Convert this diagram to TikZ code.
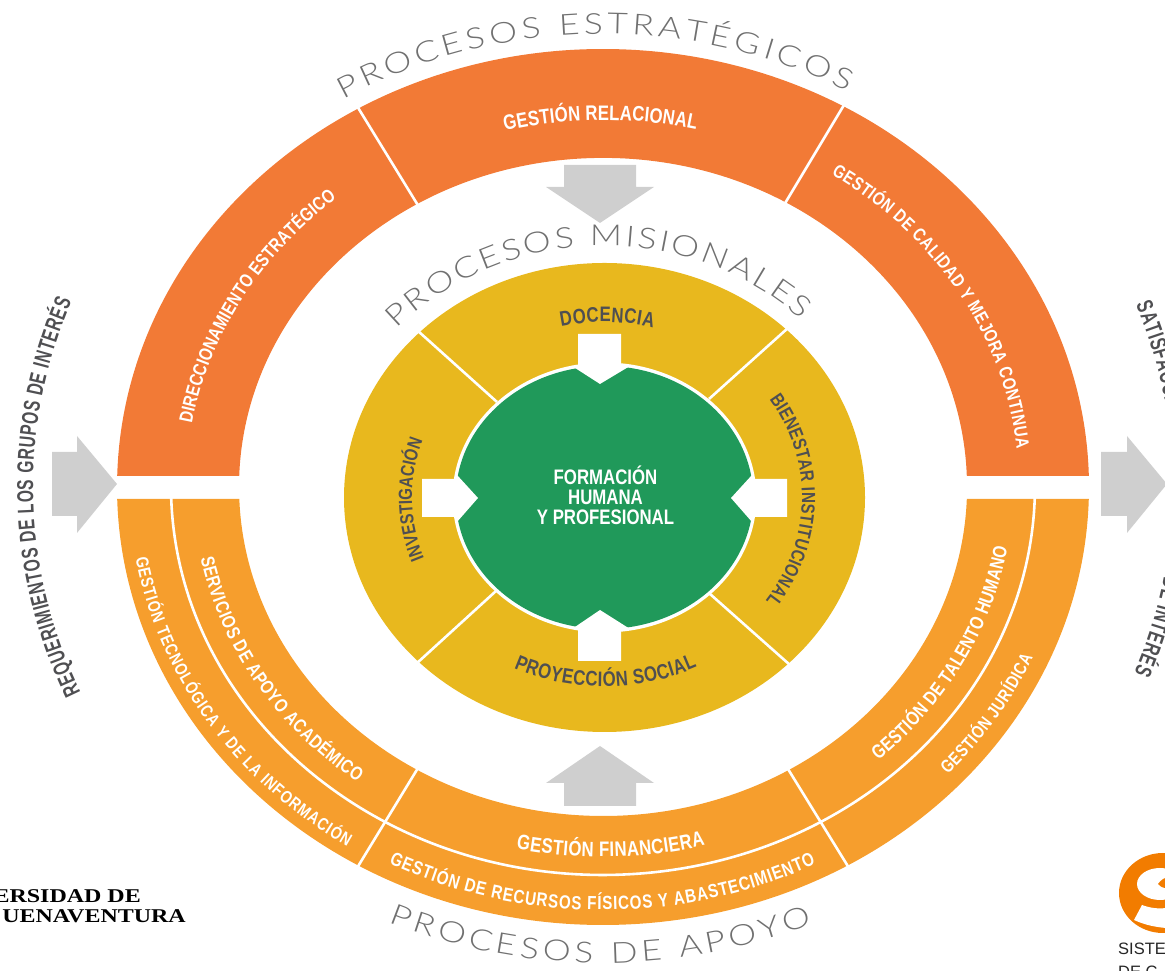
\documentclass[tikz,border=0pt]{standalone}
\usepackage{fontspec}
\usetikzlibrary{decorations.text}
\setmainfont{Liberation Sans}
\newfontfamily\lblfont[FakeStretch=0.8]{Liberation Sans}
\newfontfamily\sidefont[FakeStretch=0.68]{Liberation Sans}
\newfontfamily\headfont[FakeStretch=1.22]{Lato Light}
\newfontfamily\unifont[FakeStretch=1.23]{Liberation Serif}
\definecolor{topor}{HTML}{F27A36}
\definecolor{botor}{HTML}{F69E2D}
\definecolor{ringy}{HTML}{E8B81E}
\definecolor{ringg}{HTML}{20995A}
\definecolor{arrowg}{HTML}{CFCFCF}
\definecolor{darktx}{HTML}{4F4F52}
\definecolor{headtx}{HTML}{707070}
\definecolor{logoor}{HTML}{F27C00}
\tikzset{
  sepline/.style={draw=white,line width=2.6pt},
  garrow/.style={fill=arrowg},
  warrow/.style={fill=white},
  unilabel/.style={anchor=base east,inner sep=0pt,font=\unifont\bfseries\fontsize{19.5}{20}\selectfont,text=black},
  sgclabel/.style={anchor=base west,inner sep=0pt,font=\fontsize{16.5}{18}\selectfont,text=black!85},
}
% #1 text #2 font #3 cx #4 cy(from top) #5 rx #6 ry #7 start #8 end #9 colour
\newcommand{\arctext}[9]{%
  \path[decorate,decoration={text along path,text align={fit to path},
    text={|#2\color{#9}|#1}}]
    (#3,971-#4)++(#7:#5 and #6) arc[start angle=#7,end angle=#8,x radius=#5,y radius=#6];}
\newcommand{\lblA}[1]{\lblfont\bfseries\fontsize{#1}{#1}\selectfont}
\newcommand{\sideA}{\sidefont\bfseries\fontsize{23}{23}\selectfont}
\newcommand{\headA}{\headfont\fontsize{29}{29}\selectfont}
\begin{document}
\begin{tikzpicture}[x=1pt,y=1pt]
\useasboundingbox (0,0) rectangle (1165,971);
\clip (0,0) rectangle (1165,971);
% ---- outer rings
\fill[topor] (117.2,495) arc[start angle=178.56,end angle=1.44,x radius=486,y radius=438]
  -- (966.8,495) arc[start angle=1.9,end angle=178.1,x radius=364,y radius=329] -- cycle;
\fill[botor] (117.2,472) arc[start angle=181.57,end angle=358.43,x radius=486,y radius=438]
  -- (966.8,472) arc[start angle=357.91,end angle=182.09,x radius=364,y radius=329] -- cycle;
\draw[sepline] (171.2,473) arc[start angle=181.77,end angle=358.23,x radius=432,y radius=389];
\coordinate (ta1) at (357,971-106); \coordinate (ta2) at (419,971-207);
\coordinate (tb1) at (844,971-105); \coordinate (tb2) at (784,971-205);
\coordinate (ba1) at (418,971-768); \coordinate (ba2) at (357,971-868);
\coordinate (bb1) at (788,971-769); \coordinate (bb2) at (849,971-868);
\draw[sepline] (ta1) -- (ta2);
\draw[sepline] (tb1) -- (tb2);
\draw[sepline] (ba1) -- (ba2);
\draw[sepline] (bb1) -- (bb2);
% ---- yellow ring
\fill[ringy] (604.5,971-497.5) ellipse[x radius=260.5,y radius=234.5];
\coordinate (ya1) at (418,971-331); \coordinate (ya2) at (497,971-402);
\coordinate (yb1) at (788,971-328); \coordinate (yb2) at (709,971-399);
\coordinate (yc1) at (496,971-591); \coordinate (yc2) at (416,971-664);
\coordinate (yd1) at (710,971-594); \coordinate (yd2) at (790,971-665);
\draw[sepline] (ya1) -- (ya2);
\draw[sepline] (yb1) -- (yb2);
\draw[sepline] (yc1) -- (yc2);
\draw[sepline] (yd1) -- (yd2);
% ---- green core
\fill[white] (604.5,971-497.5) ellipse[x radius=152,y radius=135];
\fill[ringg] (604.5,971-497.5) ellipse[x radius=148.7,y radius=131.5];
% ---- white arrows
\fill[warrow] (578,971-334) -- (621,971-334) -- (621,971-366) -- (630,971-366) -- (600,971-384) -- (572,971-366) -- (578,971-366) -- cycle;
\fill[warrow] (578,971-661) -- (621,971-661) -- (621,971-629) -- (630,971-629) -- (600,971-610) -- (572,971-629) -- (578,971-629) -- cycle;
\fill[warrow] (422,971-479) -- (422,971-517) -- (457,971-517) -- (457,971-522) -- (478,971-498) -- (457,971-475) -- (457,971-479) -- cycle;
\fill[warrow] (787,971-479) -- (787,971-517) -- (752,971-517) -- (752,971-522) -- (731,971-498) -- (752,971-475) -- (752,971-479) -- cycle;
% ---- grey arrows
\fill[garrow] (564,971-165) -- (636,971-165) -- (636,971-187) -- (654,971-187) -- (600,971-223) -- (546,971-187) -- (564,971-187) -- cycle;
\fill[garrow] (564,971-806) -- (636,971-806) -- (636,971-783) -- (654,971-783) -- (600,971-746) -- (546,971-783) -- (564,971-783) -- cycle;
\fill[garrow] (52,971-452) -- (77,971-452) -- (77,971-436) -- (117,971-484) -- (77,971-533) -- (77,971-516) -- (52,971-516) -- cycle;
\fill[garrow] (1101,971-452) -- (1127,971-452) -- (1127,971-436) -- (1167,971-484) -- (1127,971-533) -- (1127,971-516) -- (1101,971-516) -- cycle;
% ---- headings
\arctext{PROCESOS ESTRATÉGICOS}{\headA}{603}{487}{503}{453}{121.1}{60.9}{headtx}
\arctext{PROCESOS MISIONALES}{\headA}{604}{497.5}{279}{251.5}{137.9}{45}{headtx}
\arctext{PROCESOS DE APOYO}{\headA}{603}{487}{529}{476}{246.1}{293.4}{headtx}
% ---- upper band
\arctext{GESTIÓN RELACIONAL}{\lblA{21}}{603}{487}{408}{367}{103.9}{76.8}{white}
\arctext{DIRECCIONAMIENTO ESTRATÉGICO}{\lblA{19}}{603}{487}{417}{375}{170.3}{129.7}{white}
\arctext{GESTIÓN DE CALIDAD Y MEJORA CONTINUA}{\lblA{18.5}}{603}{487}{416}{374}{56.7}{5.9}{white}
% ---- lower band
\arctext{SERVICIOS DE APOYO ACADÉMICO}{\lblA{19}}{603}{487}{410}{369}{191.1}{233.2}{white}
\arctext{GESTIÓN TECNOLÓGICA Y DE LA INFORMACIÓN}{\lblA{17.5}}{603}{487}{474}{427}{189.6}{237.3}{white}
\arctext{GESTIÓN FINANCIERA}{\lblA{21}}{603}{487}{411}{370}{257.8}{284.4}{white}
\arctext{GESTIÓN DE RECURSOS FÍSICOS Y ABASTECIMIENTO}{\lblA{19}}{603}{487}{470}{423}{242.9}{296.9}{white}
\arctext{GESTIÓN DE TALENTO HUMANO}{\lblA{19.5}}{603}{487}{410}{369}{312.2}{350.5}{white}
\arctext{GESTIÓN JURÍDICA}{\lblA{18}}{603}{487}{470}{423}{317.2}{336.2}{white}
% ---- yellow ring labels
\arctext{DOCENCIA}{\lblA{21}}{604}{497.5}{195}{175.5}{102.7}{75.4}{darktx}
\arctext{INVESTIGACIÓN}{\lblA{19}}{604}{497.5}{192}{173}{200.5}{160.7}{darktx}
\arctext{BIENESTAR INSTITUCIONAL}{\lblA{19}}{604}{497.5}{198}{178}{33.4}{-35.3}{darktx}
\arctext{PROYECCIÓN SOCIAL}{\lblA{21}}{604}{497.5}{210}{189}{244.6}{296.3}{darktx}
% ---- side labels
\arctext{REQUERIMIENTOS DE LOS GRUPOS DE INTERÉS}{\sideA}{603}{487}{570}{513}{203.6}{158.8}{darktx}
\arctext{SATISFACCIÓN DE LOS GRUPOS DE INTERÉS}{\sideA}{603}{487}{570}{513}{20.8}{-21.2}{darktx}
% ---- core label
\node[inner sep=0pt,align=center,text=white,font=\lblfont\bfseries\fontsize{21}{20}\selectfont] (core) at (605.5,971-495) {FORMACIÓN\\HUMANA\\Y PROFESIONAL};
% ---- logos
\node[unilabel] (uni1) at (141,971-903) {ERSIDAD DE};
\node[unilabel] (uni2) at (186,971-923) {UENAVENTURA};
\fill[logoor] (1163,971-893) ellipse[x radius=44,y radius=40];
\fill[white] (1160,971-884) ellipse[x radius=23,y radius=16];
\fill[logoor] (1158,971-884) .. controls (1161,971-880) and (1164,971-878) .. (1166,971-878) -- (1166,971-888) .. controls (1162,971-888) and (1160,971-886) .. (1158,971-884) -- cycle;
\fill[white] (1142,971-905) -- (1134,971-920) .. controls (1145,971-925) and (1155,971-927) .. (1166,971-928) -- (1166,971-908) .. controls (1158,971-909) and (1150,971-908) .. (1142,971-905) -- cycle;
\node[sgclabel] (sgc1) at (1118,971-955) {SISTE};
\node[sgclabel] (sgc2) at (1118,971-978) {DE C};
\end{tikzpicture}
\end{document}
